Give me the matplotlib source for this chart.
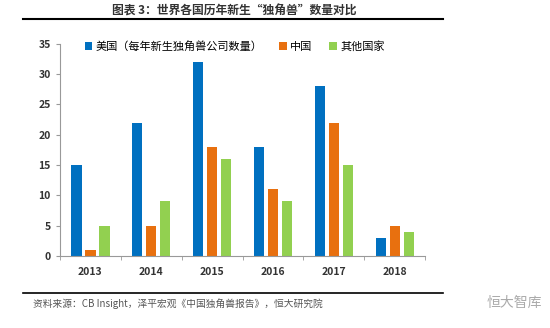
import numpy as np
import matplotlib.pyplot as plt
from matplotlib.lines import Line2D

plt.rcParams['font.family'] = ['Noto Sans CJK SC', 'DejaVu Sans']

years = ['2013', '2014', '2015', '2016', '2017', '2018']
usa = [15, 22, 32, 18, 28, 3]
china = [1, 5, 18, 11, 22, 5]
others = [5, 9, 16, 9, 15, 4]
labels = ['美国（每年新生独角兽公司数量）', '中国', '其他国家']
colors = ['#0070C0', '#E8700F', '#92D050']

fig = plt.figure(figsize=(5.5, 3.28), dpi=100)
ax = fig.add_axes([0.109, 0.22, 0.664, 0.646])

x = np.arange(len(years))
w = 0.17
step = 0.23
for i, (vals, lab, c) in enumerate(zip([usa, china, others], labels, colors)):
    ax.bar(x + (i - 1) * step, vals, width=w, color=c, label=lab)

ax.set_xlim(-0.5, len(years) - 0.5)
ax.set_ylim(0, 35)
ax.set_yticks(range(0, 36, 5))
ax.set_xticks(x)
ax.set_xticklabels(years, fontsize=7.5, fontweight='bold', color='#333333')
ax.set_xticks(np.arange(-0.5, len(years)), minor=True)
ax.tick_params(axis='x', which='major', length=0, pad=8)
ax.tick_params(axis='x', which='minor', length=3, color='#999999')
ax.tick_params(axis='y', labelsize=7.5, length=3, color='#999999', labelcolor='#333333')
for t in ax.get_yticklabels():
    t.set_fontweight('bold')
for s in ['top', 'right']:
    ax.spines[s].set_visible(False)
for s in ['left', 'bottom']:
    ax.spines[s].set_color('#999999')

ax.legend(loc='upper left', bbox_to_anchor=(0.04, 1.06), ncol=3, frameon=False,
          fontsize=8, handlelength=0.7, handleheight=0.7, handletextpad=0.3,
          columnspacing=1.5, prop={'family': ['Noto Sans CJK SC'], 'size': 8})

fig.text(0.425, 0.965, '图表 3：世界各国历年新生“独角兽”数量对比', ha='center', va='center',
         fontsize=8.5, fontweight='bold', color='#333333')
fig.add_artist(Line2D([0.042, 0.805], [0.942, 0.942], color='black', lw=1.5))
fig.add_artist(Line2D([0.042, 0.805], [0.107, 0.107], color='black', lw=1.2))
fig.text(0.06, 0.075, '资料来源：CB Insight，泽平宏观《中国独角兽报告》，恒大研究院', ha='left',
         va='center', fontsize=7, style='italic', color='#555555')
fig.text(0.985, 0.075, '恒大智库', ha='right', va='center', fontsize=10, color='#aaaaaa')

fig.savefig('out.png', dpi=100)
